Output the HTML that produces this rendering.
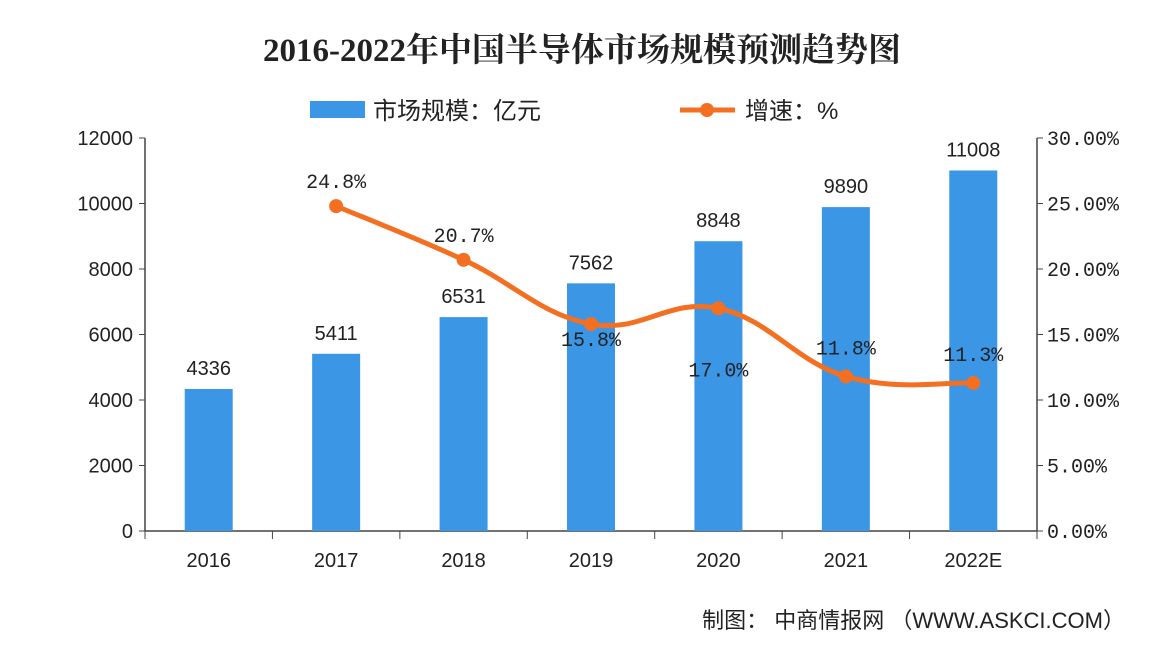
<!DOCTYPE html>
<html><head><meta charset="utf-8">
<style>
html,body{margin:0;padding:0;background:#fff;}
svg{display:block;}
text{font-family:"Liberation Sans","Noto Sans CJK SC",sans-serif;fill:#222;}
.mono{font-family:"Liberation Mono","Noto Sans CJK SC",monospace;}
</style></head>
<body>
<svg id="chart" width="1170" height="646" viewBox="0 0 1170 646">
<rect x="0" y="0" width="1170" height="646" fill="#fff"/>
<text x="582" y="61" text-anchor="middle" font-size="33" font-weight="bold" style="font-family:'Liberation Serif','Noto Serif CJK SC',serif">2016-2022年中国半导体市场规模预测趋势图</text>
<g>
<rect x="310" y="101" width="55" height="17" fill="#3b97e6"/>
<text x="373" y="119" font-size="24">市场规模：亿元</text>
<line x1="680" y1="110" x2="735" y2="110" stroke="#f36f21" stroke-width="5"/>
<circle cx="707" cy="110" r="7" fill="#f36f21"/>
<text x="745" y="119" font-size="24">增速：%</text>
</g>
<g id="axes"></g>
<g id="bars"></g>
<g id="line"></g>
<text x="1125" y="628" text-anchor="end" font-size="22" fill="#333">制图： 中商情报网 （WWW.ASKCI.COM）</text>
</svg>
<script>
const categories=["2016","2017","2018","2019","2020","2021","2022E"];
const marketSize=[4336,5411,6531,7562,8848,9890,11008];
const growth=[null,24.8,20.7,15.8,17.0,11.8,11.3];
const leftTicks=[0,2000,4000,6000,8000,10000,12000];
const rightTicks=[0,5,10,15,20,25,30];
const growthLabelDy=[0,-18,-18,22,68,-22,-22];

const NS="http://www.w3.org/2000/svg";
const X0=145,X1=1037,Y0=531,Y1=138;
const step=(X1-X0)/categories.length;
const xc=i=>X0+step*(i+0.5);
const yL=v=>Y0-(v/12000)*(Y0-Y1);
const yR=v=>Y0-(v/30)*(Y0-Y1);
function mk(tag,attrs,parent){const e=document.createElementNS(NS,tag);for(const k in attrs)e.setAttribute(k,attrs[k]);parent.appendChild(e);return e;}
const axes=document.getElementById('axes'),bars=document.getElementById('bars'),lineG=document.getElementById('line');

let e=mk('line',{x1:X0,y1:Y1,x2:X0,y2:Y0,stroke:'#444','stroke-width':1.5},axes);


e=mk('line',{x1:X1,y1:Y1,x2:X1,y2:Y0,stroke:'#444','stroke-width':1.5},axes);


e=mk('line',{x1:X0,y1:Y0,x2:X1,y2:Y0,stroke:'#444','stroke-width':1.5},axes);


leftTicks.forEach(v=>{
  const y=yL(v);
  mk('line',{x1:X0-6,y1:y,x2:X0,y2:y,stroke:'#444'},axes);
  const t=mk('text',{x:X0-12,y:y+7,'text-anchor':'end','font-size':20},axes);
  t.textContent=v;
  
  
});
rightTicks.forEach(v=>{
  const y=yR(v);
  mk('line',{x1:X1,y1:y,x2:X1+6,y2:y,stroke:'#444'},axes);
  const t=mk('text',{x:X1+10,y:y+7,'font-size':20,'class':'mono'},axes);
  t.textContent=v.toFixed(2)+'%';
  
  
});
for(let i=0;i<=categories.length;i++){
  mk('line',{x1:X0+step*i,y1:Y0,x2:X0+step*i,y2:Y0+8,stroke:'#444'},axes);
}
categories.forEach((c,i)=>{
  const t=mk('text',{x:xc(i),y:Y0+36,'text-anchor':'middle','font-size':20},axes);
  t.textContent=c;
  
  
});
const bw=48;
marketSize.forEach((v,i)=>{
  const r=mk('rect',{x:xc(i)-bw/2,y:yL(v),width:bw,height:Y0-yL(v),fill:'#3b97e6'},bars);
  
  
  const t=mk('text',{x:xc(i),y:yL(v)-14,'text-anchor':'middle','font-size':20},bars);
  t.textContent=v;
  
  
});
const pts=[];growth.forEach((v,i)=>{if(v!=null)pts.push([xc(i),yR(v),i,v]);});
let d='M'+pts[0][0]+','+pts[0][1];
for(let k=0;k<pts.length-1;k++){
  const p0=pts[Math.max(k-1,0)],p1=pts[k],p2=pts[k+1],p3=pts[Math.min(k+2,pts.length-1)];
  const t=0.2;
  const c1x=p1[0]+(p2[0]-p0[0])*t,c1y=p1[1]+(p2[1]-p0[1])*t;
  const c2x=p2[0]-(p3[0]-p1[0])*t,c2y=p2[1]-(p3[1]-p1[1])*t;
  d+=` C${c1x},${c1y} ${c2x},${c2y} ${p2[0]},${p2[1]}`;
}
e=mk('path',{d:d,fill:'none',stroke:'#f36f21','stroke-width':5,'stroke-linecap':'round'},lineG);


pts.forEach(p=>{
  const c=mk('circle',{cx:p[0],cy:p[1],r:7,fill:'#f36f21'},lineG);
  
  
  const t=mk('text',{x:p[0],y:p[1]+growthLabelDy[p[2]],'text-anchor':'middle','font-size':20,'class':'mono'},lineG);
  t.textContent=p[3].toFixed(1)+'%';
  
  
});
</script>
</body></html>
